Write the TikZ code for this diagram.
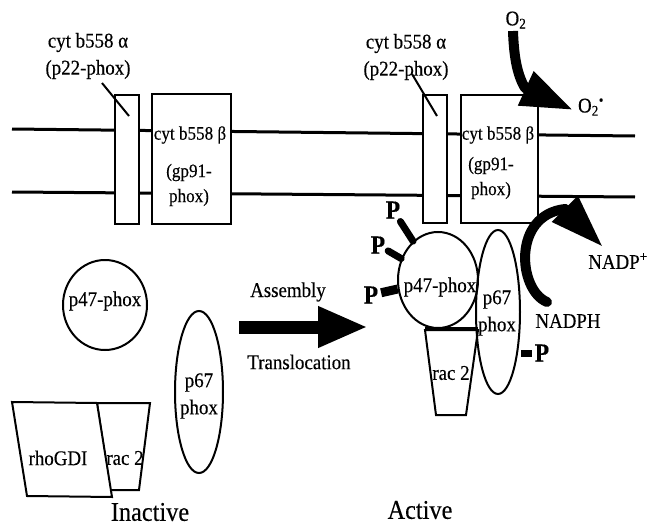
\documentclass[tikz,border=0pt]{standalone}
\usepackage{fontspec}
\setmainfont{Liberation Serif}[FakeStretch=0.9, FakeBold=0.3]
\usetikzlibrary{positioning, arrows.meta, shapes.geometric, calc}

\newcommand\lblfont{\fontsize{21}{27}\selectfont}
\newcommand\boxfont{\fontsize{19}{25}\selectfont}
\newcommand\phosfont{\fontsize{26}{26}\selectfont\bfseries}
\newcommand\statefont{\fontsize{27}{30}\selectfont}

\begin{document}
\begin{tikzpicture}[
    x=1pt, y=-1pt,
    every node/.style={align=center},
    %% lipid bilayer
    membrane/.style={line width=3pt},
    %% transmembrane subunit of the cytochrome
    helix/.style={draw, line width=2pt, fill=white, inner sep=0pt},
    %% cytosolic protein outline
    prot/.style={draw, line width=2pt, inner sep=0pt},
    %% plain labels
    lbl/.style={font=\lblfont, inner sep=0pt},
    boxlbl/.style={font=\boxfont, inner sep=0pt},
    %% phosphate group and its stub
    phos/.style={font=\phosfont, inner sep=0pt, outer sep=3pt},
    stub/.style={line width=7pt, line cap=round},
    %% big filled arrows
    fat/.style={line width=10pt, line join=round, -{Triangle[length=52pt, width=35pt]}},
    state/.style={font=\statefont, inner sep=0pt}
]

\useasboundingbox (0,0) rectangle (649,530);

%%-------------------------------------------------------------- membrane
\coordinate (topL) at (12,129);
\coordinate (topR) at (635,136);
\coordinate (botL) at (12,192);
\coordinate (botR) at (635,197);
\draw[membrane] (topL) -- (topR);
\draw[membrane] (botL) -- (botR);

%%-------------------------------------------------------------- inactive
\node[helix, minimum width=24pt, minimum height=129pt] (alphaL) at (127,159.5) {};
\node[helix, minimum width=79pt, minimum height=130pt] (betaL)  at (191.5,159) {};
\node[lbl]    (p22L)     at (88,56)   {cyt b558 α\\(p22-phox)};
\draw[line width=2pt] ($(alphaL.north)+(-25,-11)$) -- ($(alphaL.north)+(2,22)$);
\node[boxlbl] (betaLtop) at (190,135) {cyt b558 β};
\node[boxlbl] (betaLbot) at (189,185) {(gp91-\\phox)};

\node[prot, ellipse, minimum width=84pt, minimum height=90pt] (p47L) at (105,305) {};
\node[lbl] (p47Ltxt) at (105,301) {p47-phox};

\node[prot, ellipse, minimum width=48pt, minimum height=162pt] (p67L) at (199,392) {};
\node[lbl] (p67Ltxt) at (199,396) {p67\\phox};

% rac 2 sits behind rhoGDI
\draw[prot, fill=white] (97,403) -- (150,403) -- (139,490) -- (110,490) -- cycle;
\node[lbl] (rac2Ltxt) at (125,458) {rac 2};
\draw[prot, fill=white] (12,402) -- (97,403) -- (112,497) -- (27,496) -- cycle;
\node[lbl] (rhogdi) at (58,458) {rhoGDI};

\node[state] (inactive) at (150,512) {Inactive};

%%-------------------------------------------------------------- transition
\coordinate (asmTail) at (239,327);
\coordinate (asmTip)  at (368,327);
\draw[line width=13pt, -{Triangle[length=50pt, width=38pt]}] (asmTail) -- (asmTip);
\node[lbl] (assembly) at (288,292) {Assembly};
\node[lbl] (transl)   at (299,362) {Translocation};

%%-------------------------------------------------------------- active
\node[helix, minimum width=24pt, minimum height=128pt] (alphaR) at (435,159) {};
\node[helix, minimum width=77pt, minimum height=128pt] (betaR)  at (499.5,159) {};
\node[lbl]    (p22R)     at (406,57)  {cyt b558 α\\(p22-phox)};
\draw[line width=2pt] ($(alphaR.north)+(-23,-20)$) -- ($(alphaR.north)+(2,22)$);
\node[boxlbl] (betaRtop) at (498,135) {cyt b558 β};
\node[boxlbl] (betaRbot) at (491,178) {(gp91-\\phox)};

\node[prot, ellipse, minimum width=44pt, minimum height=164pt] (p67R) at (498,312) {};
\node[lbl] (p67Rtxt) at (497,313) {p67\\phox};
\node[prot, ellipse, minimum width=80pt, minimum height=96pt] (p47R) at (438,280) {};
\node[lbl] (p47Rtxt) at (440,287) {p47-phox};

\draw[prot] (425,330) -- (478,330) -- (466,415) -- (436,415) -- cycle;
\draw[line width=3.5pt] (425,329) -- (478,329);
\node[lbl] (rac2Rtxt) at (451,373) {rac 2};

% phosphates
\node[phos] (pA) at (393,210) {P};
\node[phos] (pB) at (378,245) {P};
\node[phos] (pC) at (371,295) {P};
\node[phos] (pD) at (542,353) {P};
\draw[stub] (pA) -- (p47R);
\draw[stub] (pB) -- (p47R);
\draw[stub, line cap=butt, line width=9pt] (pC) -- (p47R);
\draw[stub, line cap=butt] (pD.west) -- (pD.west -| p67R.east);

% superoxide production
\node[lbl] (o2)  at (516,20)  {O\textsubscript{2}};
\node[lbl] (o2m) at (591,107) {O\textsubscript{2}\textsuperscript{•}};
\coordinate (o2Tail) at (513,31);
\coordinate (o2Tip)  at (573,110);
\draw[fat] (o2Tail) .. controls (514,60) and (518,76) .. (525,88) -- (o2Tip);

% NADPH oxidation
\node[lbl] (nadph) at (568,321) {NADPH};
\node[lbl] (nadp)  at (618,261) {NADP\textsuperscript{+}};
\coordinate (nadphTail) at (547,302);
\coordinate (nadpTip)   at (603,247);
\draw[fat, line cap=round, -{Triangle[length=54pt, width=34pt]}]
    (nadphTail) .. controls (518,290) and (512,215) .. (565,209) -- (nadpTip);

\node[state] (active) at (420,510) {Active};

\end{tikzpicture}
\end{document}
